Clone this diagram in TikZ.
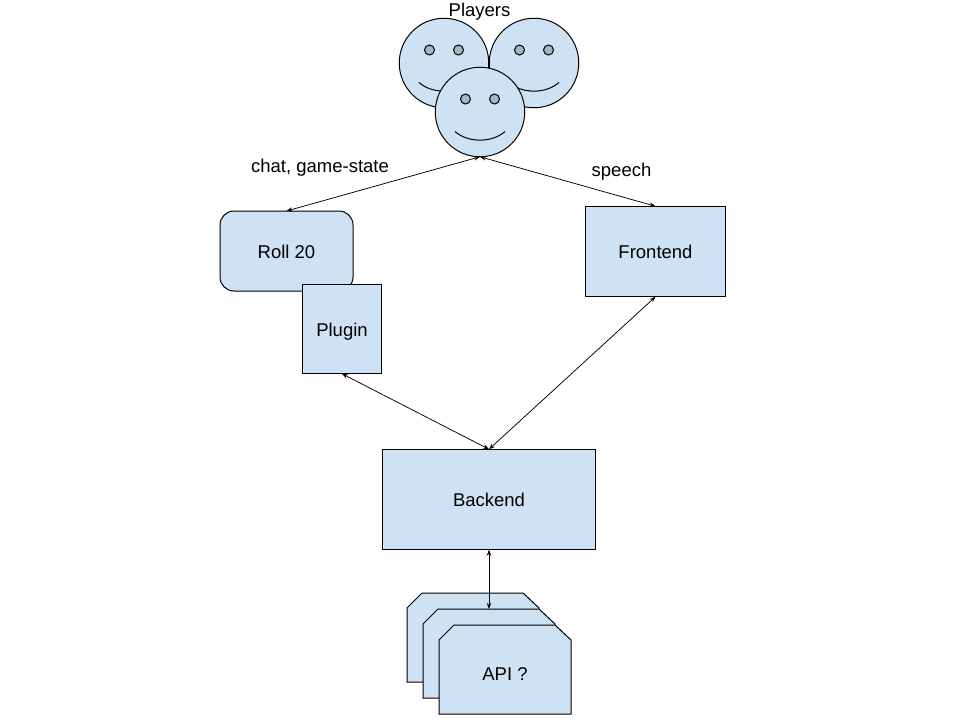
\documentclass[tikz,border=0pt]{standalone}
\usepackage{fontspec}
\setmainfont{Liberation Sans}
\usetikzlibrary{arrows.meta, positioning, calc}
\definecolor{boxcolor}{HTML}{CFE2F3}
\definecolor{eyecolor}{HTML}{A6B5C2}

\begin{document}
\begin{tikzpicture}[
    x=1pt, y=-1pt,
    every node/.style={font=\fontsize{18.5}{22}\selectfont, inner sep=0pt, outer sep=0pt},
    facehead/.style={draw, line width=1pt, circle, fill=boxcolor, minimum size=89.5pt},
    faceeye/.style={draw, line width=1pt, circle, fill=eyecolor, minimum size=10pt},
    roundbox/.style={draw, line width=1pt, fill=boxcolor, rounded corners=14pt, minimum width=133pt, minimum height=80pt},
    plainbox/.style={draw, line width=1pt, fill=boxcolor},
    apicard/.style={draw, line width=1pt, fill=boxcolor},
    arrow/.style={{Stealth[length=6pt, width=4.5pt]}-{Stealth[length=6pt, width=4.5pt]}, line width=0.75pt}
]
    \useasboundingbox (0,0) rectangle (960,720);

    % Three faces
    \foreach \name/\x/\y in {faceleft/444/63, faceright/534/63, facefront/480/112} {
        \node[facehead] (\name) at (\x,\y) {};
        \node[faceeye] (\name eyel) at (\x-14.5,\y-13) {};
        \node[faceeye] (\name eyer) at (\x+14.5,\y-13) {};
        \draw[line width=1pt] (\x-25,\y+19.5) .. controls (\x-12,\y+31) and (\x+12,\y+31) .. (\x+25,\y+19.5);
    }
    \node (players) at (479.5,12) {Players};

    % Boxes
    \node[roundbox, label={[yshift=-1pt]center:Roll 20}] (roll) at (286.5,251) {};
    \node[plainbox, minimum width=79.5pt, minimum height=89.5pt, label={[yshift=-2.5pt]center:Plugin}] (plugin) at (342,329) {};
    \node[plainbox, minimum width=140pt, minimum height=90.5pt] (frontend) at (655.5,251.5) {Frontend};
    \node[plainbox, minimum width=213.5pt, minimum height=100.5pt] (backend) at (489,499.5) {Backend};

    % API stack
    \foreach \name/\x/\y in {apiback/407/593, apimid/423/609, apifront/439/625} {
        \draw[apicard] (\x+15,\y) -- (\x+116,\y) -- (\x+132,\y+15) -- (\x+132,\y+89) -- (\x,\y+89) -- (\x,\y+15) -- cycle;
        \node[minimum width=132pt, minimum height=89pt] (\name) at (\x+66,\y+44.5) {};
    }
    \node (apitext) at (505,674) {API ?};

    % Arrows
    \draw[arrow] (facefront.south) -- (roll.north);
    \draw[arrow] (facefront.south) -- (frontend.north);
    \draw[arrow] (plugin.south) -- (backend.north);
    \draw[arrow] (frontend.south) -- (backend.north);
    \draw[arrow] (backend.south) -- (apimid.north);

    % Labels
    \node (chat) at (320,168) {chat, game-state};
    \node (speech) at (621.5,172) {speech};
\end{tikzpicture}
\end{document}
